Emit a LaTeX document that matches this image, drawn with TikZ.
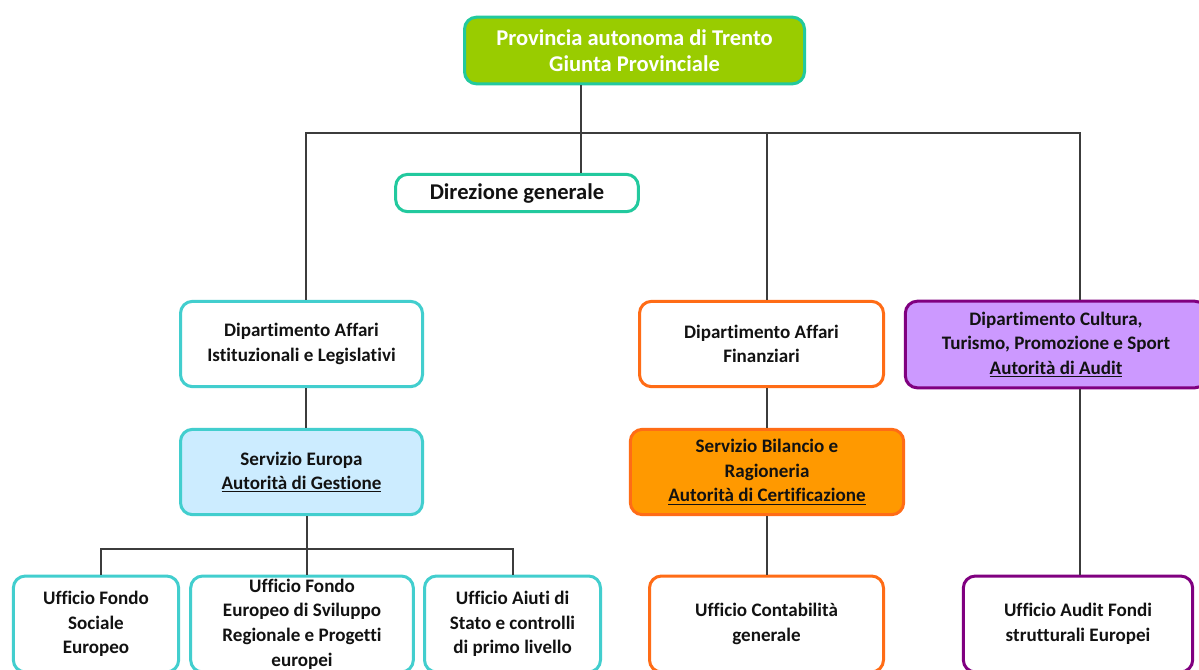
\documentclass[tikz,border=0pt]{standalone}
\usepackage{fontspec}
\setmainfont{Carlito}[Ligatures=NoCommon]
\definecolor{mint}{RGB}{34,201,158}
\definecolor{lime}{RGB}{153,204,0}
\definecolor{turq}{RGB}{66,206,206}
\definecolor{lblue}{RGB}{204,236,255}
\definecolor{orb}{RGB}{255,108,22}
\definecolor{orf}{RGB}{255,153,0}
\definecolor{purb}{RGB}{128,0,128}
\definecolor{purf}{RGB}{204,153,255}
\definecolor{ink}{RGB}{18,18,18}
\definecolor{wire}{RGB}{60,60,60}
\tikzset{
  orgbox/.style={draw, rounded corners=9pt, line width=2.25pt, align=center, inner sep=0pt,
     text=ink, font=\bfseries\fontsize{14.3}{18.4}\selectfont},
  tealbox/.style={orgbox, draw=turq, fill=white},
  orangebox/.style={orgbox, draw=orb, fill=white},
  purplebox/.style={orgbox, draw=purb, fill=white},
  wirestyle/.style={draw=wire, line width=0.8pt}
}
\begin{document}
\begin{tikzpicture}[x=0.75pt,y=-0.75pt]
\useasboundingbox (0,0) rectangle (1199,669);
\clip (0,0) rectangle (1199,669);
\fill[white] (0,0) rectangle (1199,669);
% coordinates of connector lines
\coordinate (xa) at (581,133);
\coordinate (xl) at (306,133);
\coordinate (xm) at (767,133);
\coordinate (xr) at (1080,133);
\coordinate (bl) at (101,549);
\coordinate (bm) at (307,549);
\coordinate (br) at (513,549);
% nodes
\node[orgbox, draw=mint, fill=lime, text=white, minimum width=255pt, minimum height=50pt,
  font=\bfseries\fontsize{16.9}{19.5}\selectfont] (top) at (634.5,50.5)
  {Provincia autonoma di Trento\\Giunta Provinciale};
\node[orgbox, draw=mint, fill=white, minimum width=182pt, minimum height=28pt,
  font=\bfseries\fontsize{16.9}{19.5}\selectfont] (dir) at (517,193) {\raisebox{-2.5pt}{Direzione generale}};
\node[tealbox, minimum width=181.5pt, minimum height=64pt] (dai) at (301.5,344)
  {Dipartimento Affari\\Istituzionali e Legislativi};
\node[tealbox, fill=lblue, minimum width=181.5pt, minimum height=64pt] (seu) at (301.5,472)
  {Servizio Europa\\\underline{Autorità di Gestione}};
\node[tealbox, minimum width=124pt, minimum height=72pt] (ufse) at (96,624)
  {Ufficio Fondo\\Sociale\\Europeo};
\node[tealbox, minimum width=167pt, minimum height=72pt] (fesr) at (302,624)
  {Ufficio Fondo\\Europeo di Sviluppo\\Regionale e Progetti\\europei};
\node[tealbox, minimum width=132pt, minimum height=72pt] (aiuti) at (512.5,624)
  {Ufficio Aiuti di\\Stato e controlli\\di primo livello};
\node[orangebox, minimum width=183pt, minimum height=64pt] (daf) at (761.5,344)
  {Dipartimento Affari\\Finanziari};
\node[orangebox, fill=orf, minimum width=205pt, minimum height=64pt] (sbr) at (767,472)
  {Servizio Bilancio e\\Ragioneria\\\underline{Autorità di Certificazione}};
\node[orangebox, minimum width=175.5pt, minimum height=72pt] (ucg) at (766.5,624)
  {Ufficio Contabilità\\generale};
\node[purplebox, fill=purf, minimum width=226pt, minimum height=65pt] (dcu) at (1056,344.5)
  {Dipartimento Cultura,\\Turismo, Promozione e Sport\\\underline{Autorità di Audit}};
\node[purplebox, minimum width=172pt, minimum height=72pt] (uaf) at (1078,624)
  {Ufficio Audit Fondi\\strutturali Europei};
% connectors
\draw[wirestyle] (top.south -| xa) -- (dir.north -| xa);
\draw[wirestyle] (dai.north -| xl) -- (xl) -- (xr) -- (dcu.north -| xr);
\draw[wirestyle] (xm) -- (daf.north -| xm);
\draw[wirestyle] (dai.south -| xl) -- (seu.north -| xl);
\draw[wirestyle] (seu.south -| bm) -- (fesr.north -| bm);
\draw[wirestyle] (ufse.north -| bl) -- (bl) -- (br) -- (aiuti.north -| br);
\draw[wirestyle] (daf.south -| xm) -- (sbr.north -| xm);
\draw[wirestyle] (sbr.south -| xm) -- (ucg.north -| xm);
\draw[wirestyle] (dcu.south -| xr) -- (uaf.north -| xr);
\end{tikzpicture}
\end{document}
